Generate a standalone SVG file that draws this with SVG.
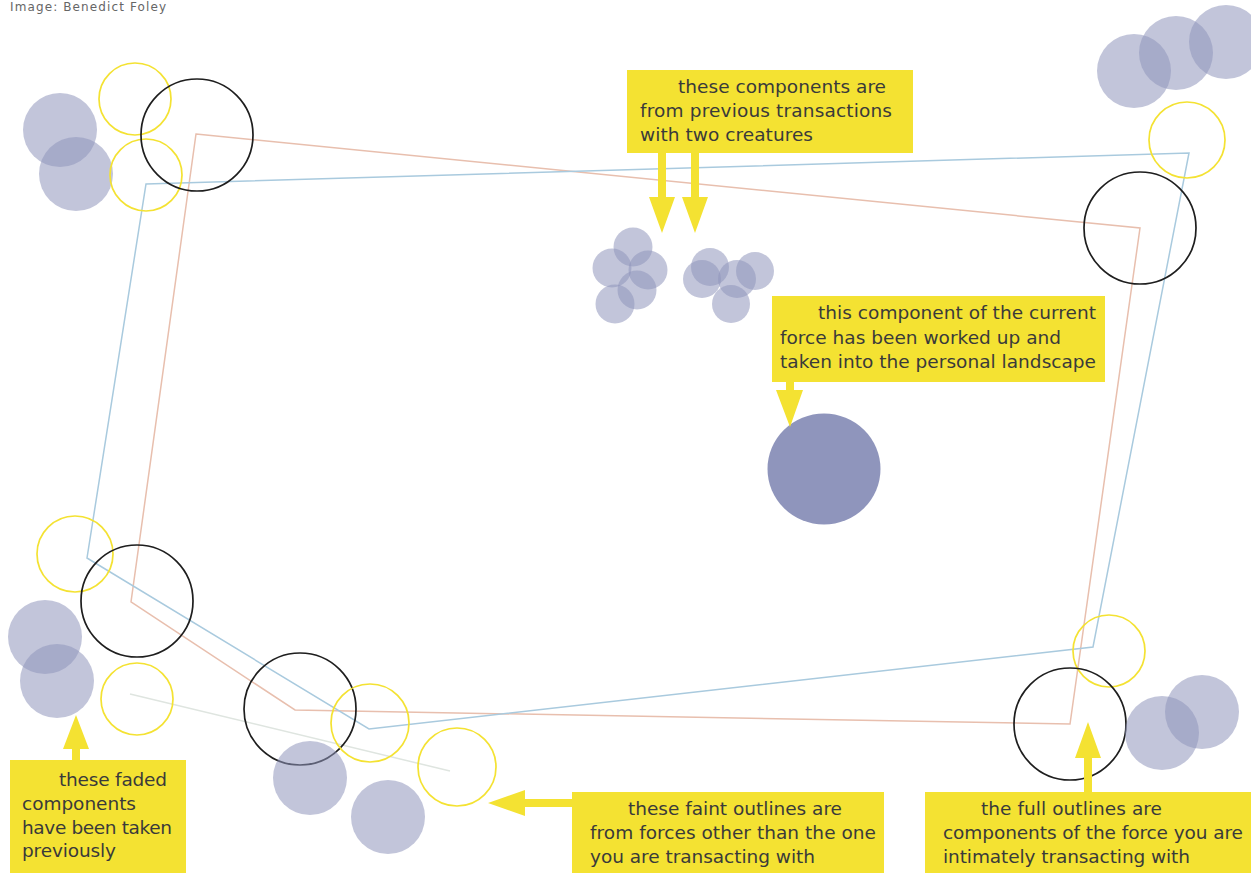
<svg xmlns="http://www.w3.org/2000/svg" width="1251" height="873" viewBox="0 0 1251 873">
<style>
.bg{fill:#ffffff}
.fade{fill:#8f95bc;fill-opacity:0.55}
.solid{fill:#8f95bc}
.yc{fill:none;stroke:#f4e232;stroke-width:1.7}
.bc{fill:none;stroke:#1e1e1e;stroke-width:1.7}
.box{fill:#f4e232}
.arr{fill:#f4e232}
.lbl{font-family:"DejaVu Sans","Liberation Sans",sans-serif;font-size:18.5px;fill:#3a3a3a}
.credit{font-family:"DejaVu Sans","Liberation Sans",sans-serif;font-size:12px;fill:#666666}
</style>
<rect class="bg" x="0" y="0" width="1251" height="873"/>
<text class="credit" x="10" y="11" textLength="156">Image: Benedict Foley</text>

<g id="outlines">
  <polygon points="196,134 1140,228 1070,724 295,710 131,602" fill="none" stroke="#e8bfae" stroke-width="1.5"/>
  <polygon points="146,184 1189,153 1093,647 369,729 87,558" fill="none" stroke="#a9cade" stroke-width="1.5"/>
  <line x1="130" y1="694" x2="450" y2="771" stroke="#dfe5e0" stroke-width="1.5"/>
</g>

<g id="top-left">
  <circle class="fade" cx="60" cy="130" r="37"/>
  <circle class="fade" cx="76" cy="174" r="37"/>
  <circle class="yc" cx="135" cy="99" r="36"/>
  <circle class="yc" cx="146" cy="175" r="36"/>
  <circle class="bc" cx="197" cy="135" r="56"/>
</g>

<g id="top-right">
  <circle class="fade" cx="1134" cy="71" r="37"/>
  <circle class="fade" cx="1176" cy="53" r="37"/>
  <circle class="fade" cx="1226" cy="42" r="37"/>
  <circle class="yc" cx="1187" cy="140" r="38"/>
  <circle class="bc" cx="1140" cy="228" r="56"/>
</g>

<g id="bottom-left">
  <circle class="yc" cx="75" cy="554" r="38"/>
  <circle class="bc" cx="137" cy="601" r="56"/>
  <circle class="fade" cx="45" cy="637" r="37"/>
  <circle class="fade" cx="57" cy="681" r="37"/>
  <circle class="yc" cx="137" cy="699" r="36"/>
  <circle class="bc" cx="300" cy="709" r="56"/>
  <circle class="yc" cx="370" cy="723" r="39"/>
  <circle class="fade" cx="310" cy="778" r="37"/>
  <circle class="fade" cx="388" cy="817" r="37"/>
  <circle class="yc" cx="457" cy="767" r="39"/>
</g>

<g id="bottom-right">
  <circle class="yc" cx="1109" cy="651" r="36"/>
  <circle class="bc" cx="1070" cy="724" r="56"/>
  <circle class="fade" cx="1162" cy="733" r="37"/>
  <circle class="fade" cx="1202" cy="712" r="37"/>
</g>

<g id="creature-one">
  <circle class="fade" cx="633" cy="247" r="19.5"/>
  <circle class="fade" cx="612" cy="268" r="19.5"/>
  <circle class="fade" cx="648" cy="270" r="19.5"/>
  <circle class="fade" cx="637" cy="290" r="19.5"/>
  <circle class="fade" cx="615" cy="304" r="19.5"/>
</g>
<g id="creature-two">
  <circle class="fade" cx="710" cy="267" r="19"/>
  <circle class="fade" cx="702" cy="279" r="19"/>
  <circle class="fade" cx="737" cy="279" r="19"/>
  <circle class="fade" cx="755" cy="271" r="19"/>
  <circle class="fade" cx="731" cy="304" r="19"/>
</g>

<g id="current-component">
  <ellipse class="solid" cx="824" cy="469" rx="56.5" ry="55.5"/>
</g>

<g id="connectors">
  <polygon class="arr" points="658,153 666,153 666,197 675,197 662,233 649,197 658,197"/>
  <polygon class="arr" points="691,153 699,153 699,197 708,197 695,233 682,197 691,197"/>
  <polygon class="arr" points="786,382 794,382 794,390 803,390 790,427 776,390 786,390"/>
  <polygon class="arr" points="72,760 80,760 80,749 89,749 76,715 63,749 72,749"/>
  <polygon class="arr" points="573,799 573,807 525,807 525,816 488,803 525,790 525,799"/>
  <polygon class="arr" points="1084,792 1092,792 1092,758 1101,758 1088,722 1075,758 1084,758"/>
</g>

<g id="label-previous">
  <rect class="box" x="627" y="70" width="286" height="83"/>
  <text class="lbl" x="678" y="93" textLength="208">these components are</text>
  <text class="lbl" x="640" y="117" textLength="252">from previous transactions</text>
  <text class="lbl" x="640" y="141" textLength="173">with two creatures</text>
</g>

<g id="label-current">
  <rect class="box" x="772" y="296" width="333" height="86"/>
  <text class="lbl" x="818" y="319" textLength="278">this component of the current</text>
  <text class="lbl" x="780" y="344" textLength="281">force has been worked up and</text>
  <text class="lbl" x="780" y="368" textLength="316">taken into the personal landscape</text>
</g>

<g id="label-faded">
  <rect class="box" x="10" y="760" width="176" height="113"/>
  <text class="lbl" x="59" y="786" textLength="108">these faded</text>
  <text class="lbl" x="22" y="810" textLength="114">components</text>
  <text class="lbl" x="22" y="834" textLength="150">have been taken</text>
  <text class="lbl" x="22" y="857" textLength="94">previously</text>
</g>

<g id="label-faint">
  <rect class="box" x="572" y="792" width="312" height="81"/>
  <text class="lbl" x="628" y="815" textLength="214">these faint outlines are</text>
  <text class="lbl" x="590" y="839" textLength="286">from forces other than the one</text>
  <text class="lbl" x="590" y="863" textLength="225">you are transacting with</text>
</g>

<g id="label-full">
  <rect class="box" x="925" y="792" width="326" height="81"/>
  <text class="lbl" x="981" y="815" textLength="181">the full outlines are</text>
  <text class="lbl" x="943" y="839" textLength="300">components of the force you are</text>
  <text class="lbl" x="943" y="863" textLength="247">intimately transacting with</text>
</g>
</svg>
